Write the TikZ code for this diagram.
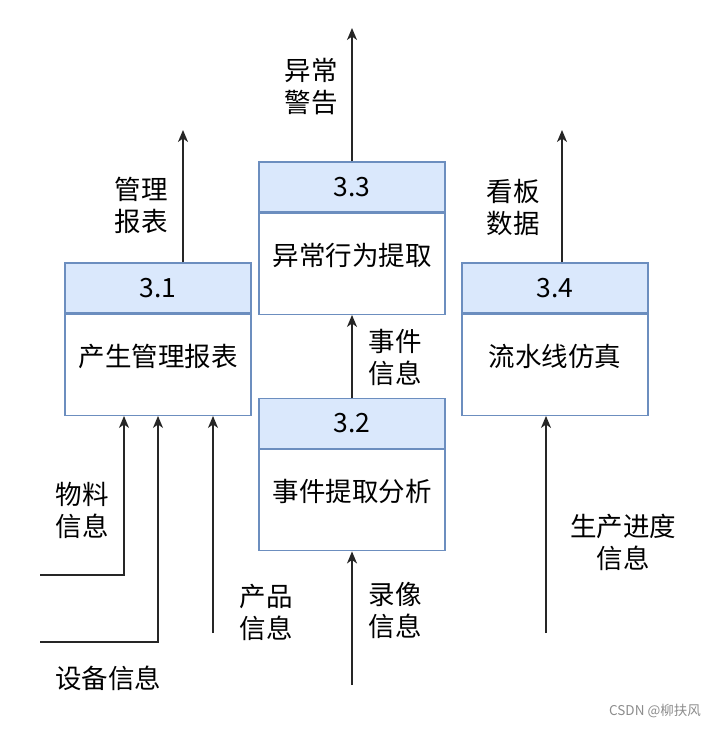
\documentclass[tikz,border=0pt]{standalone}
\usepackage{fontspec}
\setmainfont{Noto Sans CJK SC}
\usepackage{tikz}
\usetikzlibrary{positioning, arrows.meta}

\definecolor{hdfill}{HTML}{DAE8FC}
\definecolor{hdline}{HTML}{6C8EBF}

\begin{document}
\begin{tikzpicture}[x=1pt, y=-1pt,
    font=\fontsize{26.5}{32}\selectfont,
    head/.style = {draw=hdline, fill=hdfill, line width=1.3pt, minimum width=186pt, minimum height=50pt, inner sep=0pt},
    body/.style = {draw=hdline, fill=white, line width=1.3pt, minimum width=186pt, minimum height=101pt, inner sep=0pt, text height=20pt, text depth=17pt},
    flow/.style = {-{Stealth[length=12pt, width=10pt, inset=3.5pt]}, line width=1.5pt, draw=black!85},
    lbl/.style = {align=center, inner sep=0pt}]
                \useasboundingbox (0,0) rectangle (720,730);

                \node[head] at (158, 288) (h31) {3.1};
                \node[body, below=0pt of h31] (b31) {产生管理报表};
                \node[head] at (352, 187) (h33) {3.3};
                \node[body, below=0pt of h33] (b33) {异常行为提取};
                \node[head] at (352, 423.5) (h32) {3.2};
                \node[body, below=0pt of h32] (b32) {事件提取分析};
                \node[head] at (555, 288) (h34) {3.4};
                \node[body, below=0pt of h34] (b34) {流水线仿真};

                \coordinate (report) at (183, 130);
                \coordinate (alarm) at (352, 28);
                \coordinate (board) at (562, 130);
                \coordinate (material) at (40, 575);
                \coordinate (device) at (40, 642);
                \coordinate (product) at (213, 633);
                \coordinate (video) at (352, 685);
                \coordinate (progress) at (546, 633);

                \draw[flow] (h31.north -| report) -- (report);
                \draw[flow] (h33.north) -- (alarm);
                \draw[flow] (h34.north -| board) -- (board);
                \draw[flow] (h32.north) -- (b33.south);
                \draw[flow] (material) -| ([xshift=-34pt]b31.south);
                \draw[flow] (device) -| (b31.south);
                \draw[flow] (product) -- (b31.south -| product);
                \draw[flow] (video) -- (b32.south);
                \draw[flow] (progress) -- (b34.south -| progress);

                \node[lbl] at (141, 205) (l_report) {管理\\报表};
                \node[lbl] at (311, 87) (l_alarm) {异常\\警告};
                \node[lbl] at (513, 207) (l_board) {看板\\数据};
                \node[lbl] at (395, 357) (l_event) {事件\\信息};
                \node[lbl] at (82, 510) (l_material) {物料\\信息};
                \node[lbl] at (266, 612) (l_product) {产品\\信息};
                \node[lbl] at (108, 678) (l_device) {设备信息};
                \node[lbl] at (395, 610) (l_video) {录像\\信息};
                \node[lbl] at (623, 542) (l_progress) {生产进度\\信息};

                \node[text=black!45, font=\fontsize{13.5}{16}\selectfont, inner sep=0pt] at (655, 711) (mark) {CSDN @柳扶风};
\end{tikzpicture}
\end{document}
